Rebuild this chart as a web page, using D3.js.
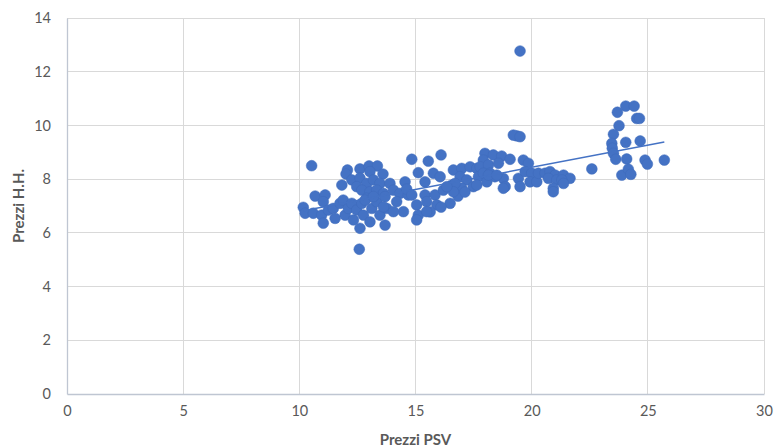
<!DOCTYPE html>
<html>
<head>
<meta charset="utf-8">
<script src="https://cdn.jsdelivr.net/npm/d3@7/dist/d3.min.js"></script>
<style>
  html, body { margin: 0; padding: 0; background: #ffffff; }
  svg { display: block; font-family: Lato, "Open Sans", sans-serif; }
</style>
</head>
<body>
<svg id="chart" width="775" height="448"></svg>
<script>
// PSV price (x) and H.H. price (y) for each observation
const psv = [
  10.53, 12.07, 12.01, 12.61, 13.00, 13.36, 13.04, 13.60, 11.83, 12.26,
  12.61, 12.90, 13.19, 13.47, 12.47, 12.69, 13.04, 13.33, 13.62, 10.68,
  11.11, 11.03, 10.17, 10.25, 10.60, 10.96, 11.03, 11.25, 11.46, 11.54,
  11.75, 11.89, 11.97, 12.11, 12.26, 12.33, 12.47, 12.61, 12.69, 12.76,
  12.90, 13.04, 13.12, 13.33, 13.47, 13.69, 13.76, 12.58, 12.83, 13.19,
  14.84, 15.55, 16.10, 15.12, 15.77, 15.41, 16.06, 14.55, 13.90, 14.05,
  14.33, 14.69, 13.69, 13.62, 14.19, 14.48, 14.05, 15.05, 15.12, 15.05,
  15.41, 15.48, 15.84, 15.92, 16.20, 16.49, 16.56, 16.63, 16.99, 17.35,
  17.64, 16.92, 17.21, 17.49, 17.71, 16.99, 16.70, 19.36, 19.21, 19.50,
  17.99, 18.35, 18.71, 19.07, 17.92, 17.78, 18.14, 18.57, 17.92, 18.21,
  18.42, 18.78, 18.86, 17.64, 18.07, 19.64, 19.86, 19.43, 19.50, 19.72,
  20.00, 19.93, 20.22, 20.29, 20.58, 20.79, 21.01, 20.72, 21.08, 21.37,
  21.65, 21.30, 20.93, 20.93, 19.50, 23.69, 24.05, 24.41, 24.52, 24.64,
  23.76, 23.52, 23.45, 23.47, 23.52, 23.62, 24.05, 24.67, 24.09, 24.88,
  24.98, 25.71, 22.59, 23.88, 24.16, 24.27, 21.37, 16.10, 15.63, 16.83,
  17.13, 14.62, 14.84, 16.63, 16.35, 18.14, 18.50, 18.78, 15.48
];
const hh = [
  8.50, 8.34, 8.19, 8.38, 8.49, 8.49, 8.28, 8.19, 7.78, 7.97,
  8.04, 7.84, 7.97, 7.84, 7.72, 7.59, 7.53, 7.59, 7.47, 7.37,
  7.41, 7.16, 6.95, 6.73, 6.73, 6.66, 6.36, 6.85, 6.91, 6.54,
  7.10, 7.22, 6.66, 6.91, 7.10, 6.48, 6.85, 6.17, 7.10, 6.66,
  7.29, 6.41, 6.91, 7.16, 6.66, 6.29, 6.91, 5.39, 7.22, 7.35,
  8.74, 8.67, 8.90, 8.24, 8.22, 7.90, 8.09, 7.90, 7.84, 7.59,
  7.47, 7.41, 7.35, 6.97, 7.16, 6.79, 6.79, 7.04, 6.66, 6.48,
  7.41, 7.16, 7.41, 7.04, 7.59, 7.10, 7.78, 8.34, 8.40, 8.46,
  8.40, 8.09, 7.97, 7.72, 8.09, 7.66, 7.84, 9.61, 9.64, 9.58,
  8.96, 8.90, 8.86, 8.74, 8.71, 8.46, 8.53, 8.59, 8.22, 8.22,
  8.09, 8.03, 7.72, 7.78, 7.90, 8.71, 8.59, 8.03, 7.72, 8.28,
  8.22, 7.90, 7.90, 8.22, 8.22, 8.28, 8.15, 8.03, 7.97, 8.15,
  8.03, 7.97, 7.66, 7.53, 12.77, 10.49, 10.72, 10.72, 10.26, 10.26,
  9.99, 9.67, 9.33, 9.15, 8.96, 8.74, 9.37, 9.42, 8.75, 8.71,
  8.56, 8.71, 8.38, 8.15, 8.37, 8.18, 7.84, 6.96, 6.78, 7.37,
  7.52, 7.63, 7.41, 7.53, 7.72, 8.15, 8.15, 7.66, 6.79
];

// Linear trendline: [slope, intercept]
const trend = [0.1645, 5.15];

// Axis ticks
const xTicks = [0, 5, 10, 15, 20, 25, 30];
const yTicks = [0, 2, 4, 6, 8, 10, 12, 14];

const xTitle = "Prezzi PSV";
const yTitle = "Prezzi H.H.";

const svg = d3.select("#chart");
const plot = { left: 67, right: 764, top: 18, bottom: 394 };

const x = d3.scaleLinear().domain([0, 30]).range([plot.left, plot.right]);
const y = d3.scaleLinear().domain([0, 14]).range([plot.bottom, plot.top]);

const textColor = "#595959";
const gridColor = "#d9d9d9";
const axisColor = "#bfc6d2";
const blue = "#4472c4";

// Gridlines
svg.append("g")
  .selectAll("line")
  .data(yTicks.filter(d => d > 0))
  .join("line")
  .attr("x1", plot.left).attr("x2", plot.right)
  .attr("y1", d => y(d)).attr("y2", d => y(d))
  .attr("stroke", gridColor).attr("stroke-width", 1)
  .attr("shape-rendering", "crispEdges");

svg.append("g")
  .selectAll("line")
  .data(xTicks.filter(d => d > 0))
  .join("line")
  .attr("x1", d => x(d)).attr("x2", d => x(d))
  .attr("y1", plot.top).attr("y2", plot.bottom)
  .attr("stroke", gridColor).attr("stroke-width", 1)
  .attr("shape-rendering", "crispEdges");

// Axes
const xAxis = svg.append("g")
  .attr("transform", `translate(0,${plot.bottom})`)
  .call(d3.axisBottom(x).tickValues(xTicks).tickSize(0).tickPadding(12));
const yAxis = svg.append("g")
  .attr("transform", `translate(${plot.left},0)`)
  .call(d3.axisLeft(y).tickValues(yTicks).tickSize(0).tickPadding(16));

[xAxis, yAxis].forEach(g => {
  g.select(".domain").attr("stroke", axisColor).attr("stroke-width", 1.3);
  g.selectAll("text")
    .attr("fill", textColor)
    .style("font-size", "14.5px")
    .style("font-family", "Lato, 'Open Sans', sans-serif");
});

// Points
const points = psv.map((v, i) => ({ x: v, y: hh[i] }));
svg.append("g")
  .selectAll("circle")
  .data(points)
  .join("circle")
  .attr("cx", d => x(d.x))
  .attr("cy", d => y(d.y))
  .attr("r", 5.4)
  .attr("fill", blue)
  .attr("stroke", "#3f6bbb")
  .attr("stroke-width", 0.5);

// Trendline over the observed PSV range
const xExtent = d3.extent(psv);
svg.append("line")
  .attr("x1", x(xExtent[0])).attr("y1", y(trend[0] * xExtent[0] + trend[1]))
  .attr("x2", x(xExtent[1])).attr("y2", y(trend[0] * xExtent[1] + trend[1]))
  .attr("stroke", blue).attr("stroke-width", 1.5);

// Axis titles
svg.append("text")
  .attr("x", (plot.left + plot.right) / 2).attr("y", 445)
  .attr("text-anchor", "middle")
  .attr("fill", textColor)
  .style("font-size", "15px").style("font-weight", "bold")
  .text(xTitle);

svg.append("text")
  .attr("transform", `translate(24,${(plot.top + plot.bottom) / 2}) rotate(-90)`)
  .attr("text-anchor", "middle")
  .attr("fill", textColor)
  .style("font-size", "15px").style("font-weight", "bold")
  .text(yTitle);
</script>
</body>
</html>
